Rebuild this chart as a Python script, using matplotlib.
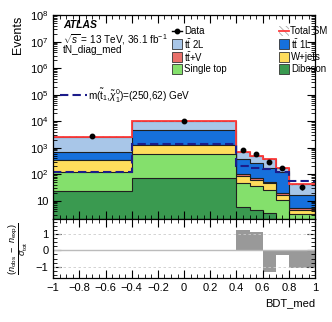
import numpy as np
import matplotlib
matplotlib.use("Agg")
import matplotlib.pyplot as plt
from matplotlib.patches import Rectangle
from matplotlib.lines import Line2D
from matplotlib.ticker import FixedLocator, MultipleLocator, LogLocator, NullFormatter, FuncFormatter

plt.rcParams['font.family'] = ['Liberation Sans', 'DejaVu Sans']
plt.rcParams['mathtext.fontset'] = 'custom'
plt.rcParams['mathtext.rm'] = 'Liberation Sans'
plt.rcParams['mathtext.it'] = 'Liberation Sans:italic'
plt.rcParams['mathtext.bf'] = 'Liberation Sans:bold'
plt.rcParams['hatch.linewidth'] = 0.6

# BDT_med bin edges
edges = [-1.0, -0.4, 0.4, 0.5, 0.6, 0.7, 0.8, 1.0]

# background yields per bin (stack order bottom -> top)
diboson = [23, 75, 6, 4.4, 3.4, 1.5, 1.0]
single_top = [99, 494, 39, 30.6, 21.6, 9.5, 2.1]
wjets = [215, 670, 38, 24, 20, 6, 1.3]
ttv = [5, 40, 17, 13, 6, 3, 1.1]
ttbar_1l = [353, 3581, 268, 196, 123, 102, 11.5]
ttbar_2l = [1905, 5140, 327, 222, 194, 52, 24]
rel_unc = [0.05, 0.05, 0.07, 0.07, 0.08, 0.08, 0.12]

data = [2700, 10500, 800, 570, 300, 168, 32]
signal = [125, 1350, 205, 170, 160, 120, 56]
significance = [0.0, 0.0, 1.27, 1.11, -1.35, -0.26, -1.05]

edges = np.array(edges)
centers = 0.5 * (edges[1:] + edges[:-1])

samples = [
    (diboson, '#3a9a50', 'Diboson'),
    (single_top, '#84e06c', 'Single top'),
    (wjets, '#ffdd5c', 'W+jets'),
    (ttv, '#e8706a', r't$\bar{\rm t}$+V'),
    (ttbar_1l, '#1670dc', r't$\bar{\rm t}$ 1L'),
    (ttbar_2l, '#a8c6e8', r't$\bar{\rm t}$ 2L'),
]
SIG_COLOR = '#1c1c8a'
SIG_LS = (0, (4, 2))

fig = plt.figure(figsize=(3.32, 3.22), dpi=100)
ax = fig.add_axes([0.160, 0.319, 0.789, 0.634])
rax = fig.add_axes([0.160, 0.136, 0.789, 0.183], sharex=ax)

# stacked backgrounds, drawn from the top down
cum = np.cumsum([np.array(s[0], dtype=float) for s in samples], axis=0)
for i in range(len(samples) - 1, -1, -1):
    ax.stairs(cum[i], edges, baseline=1e-3, fill=True, facecolor=samples[i][1],
              edgecolor='none')
    ax.stairs(cum[i], edges, baseline=None, color='#202020', lw=0.8)

total = cum[-1]
unc = total * np.array(rel_unc)
ax.stairs(total + unc, edges, baseline=total - unc, fill=True, facecolor='none',
          edgecolor='#aaaaaa', hatch='\\\\\\\\\\', lw=0)
ax.stairs(total, edges, baseline=None, color='#ff3b3b', lw=1.3)

ax.stairs(signal, edges, baseline=None, color=SIG_COLOR, lw=1.5, ls=SIG_LS)

ax.errorbar(centers, data, yerr=np.sqrt(data), fmt='o', color='black', ms=3.2,
            lw=1, capsize=0)

ax.set_yscale('log')
ax.set_xlim(-1, 1)
ax.set_ylim(2, 1e8)
ax.set_ylabel('Events', loc='top', fontsize=9)
ax.yaxis.set_major_locator(FixedLocator([10.0 ** k for k in range(1, 9)]))
ax.yaxis.set_major_formatter(FuncFormatter(
    lambda v, p: '10' if abs(v - 10) < 1e-6 else r'$10^{%d}$' % round(np.log10(v))))
ax.yaxis.set_minor_locator(LogLocator(base=10, subs=np.arange(2, 10)))
ax.yaxis.set_minor_formatter(NullFormatter())
plt.setp(ax.get_xticklabels(), visible=False)

for a in (ax, rax):
    a.tick_params(which='both', direction='in', top=True, right=True, labelsize=8)
    a.tick_params(which='major', length=6, width=0.8)
    a.tick_params(which='minor', length=3, width=0.6)
    a.xaxis.set_major_locator(MultipleLocator(0.2))
    a.xaxis.set_minor_locator(MultipleLocator(0.05))
    for sp in a.spines.values():
        sp.set_linewidth(0.9)

# ATLAS labels
ax.text(0.038, 0.952, 'ATLAS', transform=ax.transAxes, fontsize=7.5,
        fontweight='bold', style='italic', va='center')
ax.text(0.038, 0.882, r'$\sqrt{s}$ = 13 TeV, 36.1 fb$^{-1}$', transform=ax.transAxes,
        fontsize=7.2, va='center')
ax.text(0.038, 0.828, 'tN_diag_med', transform=ax.transAxes, fontsize=7.2, va='center')

# legend, placed by hand in axes fractions
T = ax.transAxes
bw, bh = 0.038, 0.049
col_x = [0.454, 0.862]
row_y = [0.920, 0.858, 0.796, 0.734]
fs_leg = 6.9

def box_entry(x, y, color, label):
    ax.add_patch(Rectangle((x, y - bh / 2), bw, bh, transform=T, facecolor=color,
                           edgecolor='#333333', lw=0.6, clip_on=False))
    ax.text(x + bw + 0.008, y, label, transform=T, fontsize=fs_leg, va='center')

# Data
ax.add_line(Line2D([col_x[0], col_x[0] + bw], [row_y[0]] * 2, transform=T,
                   color='black', lw=1))
ax.add_line(Line2D([col_x[0] + bw / 2], [row_y[0]], transform=T, color='black',
                   marker='o', ms=3.2))
ax.text(col_x[0] + bw + 0.008, row_y[0], 'Data', transform=T, fontsize=fs_leg,
        va='center')
# Total SM
ax.add_patch(Rectangle((col_x[1], row_y[0] - bh / 2), bw, bh, transform=T,
                       facecolor='white', edgecolor='#aaaaaa', hatch='\\\\\\\\\\',
                       lw=0, clip_on=False))
ax.add_line(Line2D([col_x[1], col_x[1] + bw], [row_y[0]] * 2, transform=T,
                   color='#ff3b3b', lw=1.3))
ax.text(col_x[1] + bw + 0.006, row_y[0], 'Total SM', transform=T, fontsize=fs_leg,
        va='center')

box_entry(col_x[0], row_y[1], samples[5][1], samples[5][2])
box_entry(col_x[1], row_y[1], samples[4][1], samples[4][2])
box_entry(col_x[0], row_y[2], samples[3][1], samples[3][2])
box_entry(col_x[1], row_y[2], samples[2][1], samples[2][2])
box_entry(col_x[0], row_y[3], samples[1][1], samples[1][2])
box_entry(col_x[1], row_y[3], samples[0][1], samples[0][2])

# signal legend
ax.add_line(Line2D([0.027, 0.130], [0.608, 0.608], transform=T, color=SIG_COLOR,
                   lw=1.5, ls=SIG_LS))
ax.text(0.135, 0.608, r'm($\tilde{\rm t}_1$,$\tilde{\chi}^0_1$)=(250,62) GeV',
        transform=T, fontsize=7.2, va='center')

# significance panel
rax.stairs(significance, edges, baseline=0, fill=True, facecolor='#999999',
           edgecolor='none')
rax.axhline(0, color='#bbbbbb', lw=1)
rax.axhline(1, color='#cccccc', lw=0.6, ls=(0, (3, 3)))
rax.axhline(-1, color='#cccccc', lw=0.6, ls=(0, (3, 3)))
rax.set_ylim(-1.7, 1.9)
rax.yaxis.set_major_locator(FixedLocator([-1, 0, 1]))
rax.yaxis.set_minor_locator(MultipleLocator(0.25))
rax.set_xlabel('BDT_med', loc='right', fontsize=8)
rax.set_ylabel(r'$\dfrac{(n_{\rm obs}\ -\ n_{\rm exp})}{\sigma_{\rm tot}}$', fontsize=6.6)
rax.yaxis.set_label_coords(-0.09, 0.5)
rax.set_xticks([-1, -0.8, -0.6, -0.4, -0.2, 0, 0.2, 0.4, 0.6, 0.8, 1])
rax.set_xticklabels(['\u22121', '\u22120.8', '\u22120.6', '\u22120.4', '\u22120.2', '0',
                     '0.2', '0.4', '0.6', '0.8', '1'])

fig.savefig('out.png', dpi=100)
